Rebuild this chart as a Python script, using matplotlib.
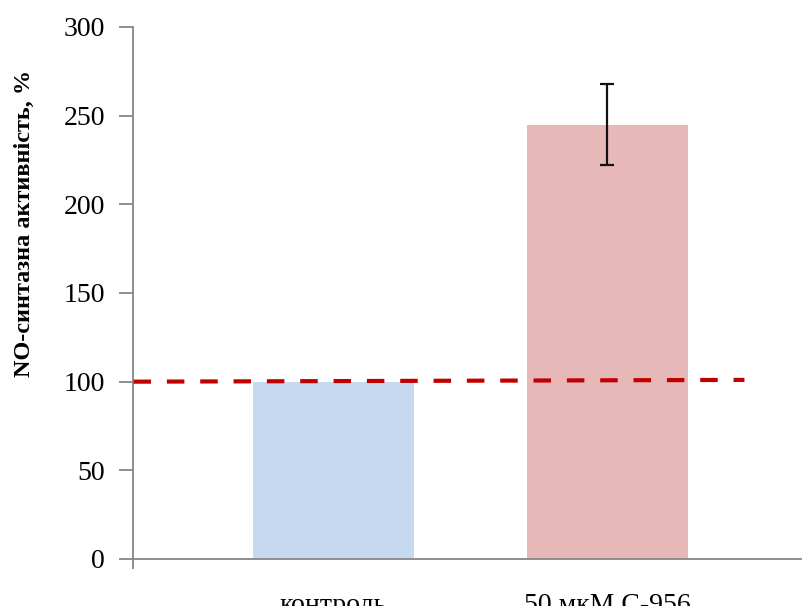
import matplotlib.pyplot as plt

# data
categories = ['контроль', '50 мкМ С-956']
values = [100, 245]
errors = [0, 23]
bar_colors = ['#C6D9F1', '#E6B9B8']
ref_x = [-0.73, 1.5]
ref_y = [100, 101]
yticks = [0, 50, 100, 150, 200, 250, 300]

plt.rcParams['font.family'] = ['Liberation Serif', 'DejaVu Serif']

fig = plt.figure(figsize=(8.02, 6.06), dpi=100)
# axes runs a little past the right edge, like the cropped original
ax = fig.add_axes([133 / 802, 47 / 606, 675 / 802, 532 / 606])

xs = list(range(len(categories)))
ax.bar(xs, values, width=0.59, color=bar_colors, zorder=2)
ax.errorbar(xs[1:], values[1:], yerr=errors[1:], fmt='none', ecolor='#111111',
            elinewidth=1.6, capsize=4.7, capthick=1.6, zorder=3)
ax.plot(ref_x, ref_y, color='#C00000', lw=3, dashes=(4.2, 3.8), zorder=4)

ax.set_xlim(-0.732, 1.732)
ax.set_ylim(0, 300)
ax.set_yticks(yticks)
ax.set_xticks(xs)
ax.set_xticklabels(categories, fontsize=20)
ax.tick_params(axis='x', length=0, pad=24.5)
ax.tick_params(axis='y', length=10, width=1.3, color='#868686', labelsize=20, pad=10)
ax.set_xticks([-0.732], minor=True)
ax.tick_params(axis='x', which='minor', length=7, width=1.3, color='#868686')

for side in ['top', 'right']:
    ax.spines[side].set_visible(False)
for side in ['left', 'bottom']:
    ax.spines[side].set_color('#868686')
    ax.spines[side].set_linewidth(1.3)

ax.set_ylabel('NO-синтазна активність, %', fontsize=17.5, fontweight='bold')
ax.yaxis.set_label_coords(-0.145, 0.63)

fig.savefig('out.png', dpi=100)
